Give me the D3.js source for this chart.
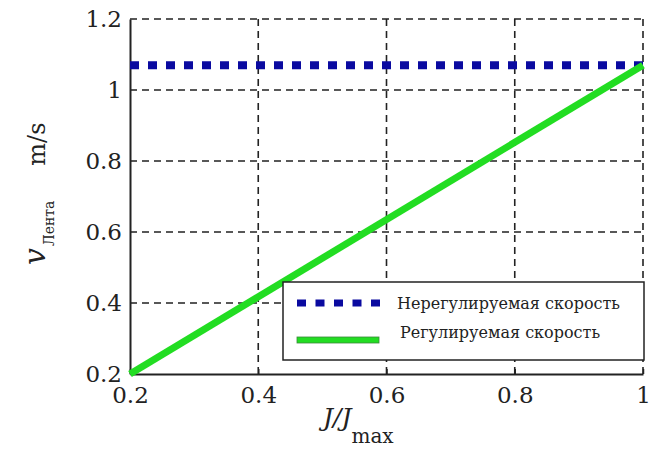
<!DOCTYPE html>
<html><head><meta charset="utf-8">
<script src="https://cdn.jsdelivr.net/npm/d3@7"></script>
<style>body{margin:0;background:#fff}svg{display:block}</style>
</head><body>
<svg id="c" width="659" height="454"></svg>
<script>
const xTicks = [0.2, 0.4, 0.6, 0.8, 1];
const yTicks = [0.2, 0.4, 0.6, 0.8, 1, 1.2];
const xValues = [0.2, 1];
const unregulated = [1.07, 1.07];
const regulated = [0.2, 1.07];
const legendLabels = ["Нерегулируемая скорость", "Регулируемая скорость"];

const svg = d3.select("#c");
const m = {l:130, r:16, t:19, b:80};
const W = 659, H = 454;
const x = d3.scaleLinear().domain([0.2, 1]).range([m.l, W - m.r]);
const y = d3.scaleLinear().domain([0.2, 1.2]).range([H - m.b, m.t]);
const FONT = "DejaVu Serif";

const g = svg.append("g");
g.selectAll(".gx").data(xTicks.slice(1)).join("line")
  .attr("x1", d => x(d)).attr("x2", d => x(d)).attr("y1", y(0.2)).attr("y2", y(1.2))
  .attr("stroke", "#222").attr("stroke-width", 1.6).attr("stroke-dasharray", "7,5");
g.selectAll(".gy").data(yTicks.slice(1)).join("line")
  .attr("x1", x(0.2)).attr("x2", x(1)).attr("y1", d => y(d)).attr("y2", d => y(d))
  .attr("stroke", "#222").attr("stroke-width", 1.6).attr("stroke-dasharray", "7,5");

const xa = svg.append("g").attr("transform", `translate(0,${y(0.2)})`)
  .call(d3.axisBottom(x).tickValues(xTicks).tickFormat(d3.format("~g")).tickSizeInner(-5).tickSizeOuter(0).tickPadding(13));
const ya = svg.append("g").attr("transform", `translate(${x(0.2)},0)`)
  .call(d3.axisLeft(y).tickValues(yTicks).tickFormat(d3.format("~g")).tickSizeInner(0).tickSizeOuter(0).tickPadding(8));
[xa, ya].forEach(a => {
  a.attr("font-family", FONT).attr("font-size", 23);
  a.select(".domain").attr("stroke", "#222").attr("stroke-width", 2);
  a.selectAll("line").attr("stroke", "#222").attr("stroke-width", 1.5);
  a.selectAll("text").attr("fill", "#222");
});

const pts = s => xValues.map((v, i) => [x(v), y(s[i])]);
const line = d3.line();
svg.append("path").attr("d", line(pts(unregulated))).attr("fill", "none")
  .attr("stroke", "#0a0aa0").attr("stroke-width", 8).attr("stroke-dasharray", "9,9");
svg.append("path").attr("d", line(pts(regulated))).attr("fill", "none")
  .attr("stroke", "#22dd22").attr("stroke-width", 7);

const lg = svg.append("g");
lg.append("rect").attr("x", 283).attr("y", 282).attr("width", 361).attr("height", 78)
  .attr("fill", "#fff").attr("stroke", "#222").attr("stroke-width", 1.5);
lg.append("line").attr("x1", 297).attr("x2", 380).attr("y1", 303).attr("y2", 303)
  .attr("stroke", "#0a0aa0").attr("stroke-width", 7).attr("stroke-dasharray", "9,9.5");
lg.append("rect").attr("x", 297).attr("y", 337).attr("width", 82).attr("height", 6)
  .attr("fill", "#22dd22").attr("stroke", "#3a8a3a").attr("stroke-width", 0.8);
lg.append("text").attr("x", 397).attr("y", 309).text(legendLabels[0])
  .attr("font-family", FONT).attr("font-size", 16).attr("fill", "#222");
lg.append("text").attr("x", 400).attr("y", 338).text(legendLabels[1])
  .attr("font-family", FONT).attr("font-size", 16).attr("fill", "#222");

const xl = svg.append("text").attr("x", 323).attr("y", 426).attr("fill", "#222").attr("font-family", FONT);
xl.append("tspan").attr("font-size", 25).attr("font-style", "italic").text("J/J");
xl.append("tspan").attr("font-size", 20).attr("dy", 17).text("max");

const yl = svg.append("text").attr("transform", "translate(45,265) rotate(-90)").attr("fill", "#222").attr("font-family", FONT);
yl.append("tspan").attr("font-size", 30).attr("font-style", "italic").text("v");
yl.append("tspan").attr("font-size", 14).attr("dy", 9).attr("dx", 2).text("Лента");
yl.append("tspan").attr("font-size", 24).attr("dy", -9).attr("dx", 35).text("m/s");
</script>
</body></html>
